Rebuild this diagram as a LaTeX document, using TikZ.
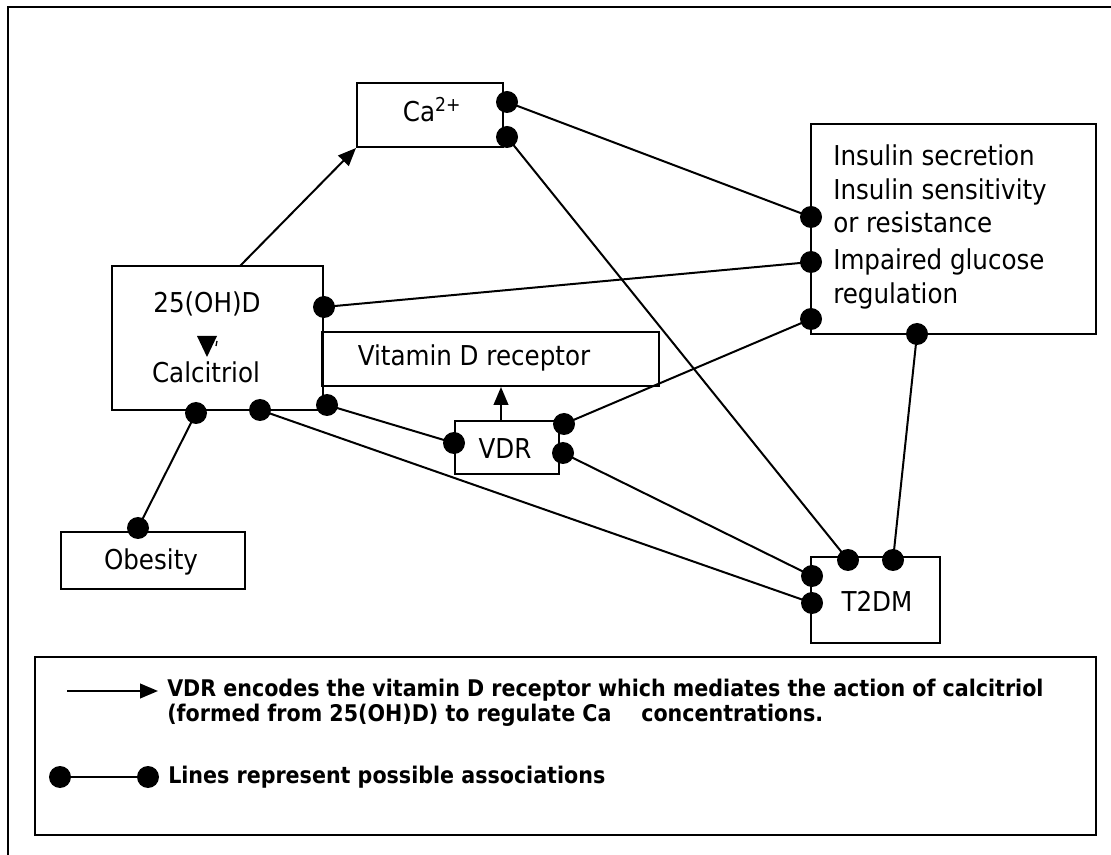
\documentclass[tikz,border=0pt]{standalone}
\usepackage{fontspec}
\setmainfont{DejaVu Sans Condensed}
\usetikzlibrary{arrows.meta}
\begin{document}
\begin{tikzpicture}[x=0.75pt,y=-0.75pt,
  box/.style={draw,line width=1.5pt,inner sep=0pt,font=\fontsize{20.5}{24}\selectfont},
  lbl/.style={inner sep=0pt,anchor=base,font=\fontsize{20.5}{24}\selectfont},
  leg/.style={inner sep=0pt,anchor=base west,font=\fontsize{17.2}{20}\selectfont\bfseries},
  dot/.style={circle,fill=black,inner sep=0pt,minimum size=16.5pt},
  assoc/.style={line width=1.5pt},
  arr/.style={line width=1.5pt,-{Triangle[length=13.5pt,width=11pt]}}]
\useasboundingbox (0,0) rectangle (1111,855);
% outer frame
\draw[line width=1.5pt] (8,860) -- (8,7) -- (1115,7);
% boxes
\node[box,minimum width=146*0.75pt,minimum height=64*0.75pt] (ca) at (430,115) {};
\node[lbl] (catxt) at (432,122) {Ca\textsuperscript{2+}};
\node[box,minimum width=211*0.75pt,minimum height=144*0.75pt] (ohd) at (217.5,338) {};
\node[lbl] (ohdtxt) at (207,313) {25(OH)D};
\node[lbl] (caltxt) at (206,383) {Calcitriol};
\node[box,minimum width=337*0.75pt,minimum height=54*0.75pt] (vdrec) at (490.5,359) {};
\node[lbl] (vdrectxt) at (474,366) {Vitamin D receptor};
\node[box,minimum width=104*0.75pt,minimum height=53*0.75pt] (vdr) at (507,447.5) {};
\node[lbl] (vdrtxt) at (505,459) {VDR};
\node[box,minimum width=285*0.75pt,minimum height=210*0.75pt] (ins) at (953.5,229) {};
\node[lbl,anchor=base west] (ins1) at (833,166) {Insulin secretion};
\node[lbl,anchor=base west] (ins2) at (833,200) {Insulin sensitivity};
\node[lbl,anchor=base west] (ins3) at (833,233) {or resistance};
\node[lbl,anchor=base west] (ins4) at (833,270) {Impaired glucose};
\node[lbl,anchor=base west] (ins5) at (833,304) {regulation};
\node[box,minimum width=129*0.75pt,minimum height=86*0.75pt] (t2dm) at (875.5,600) {};
\node[lbl] (t2dmtxt) at (877,611) {T2DM};
\node[box,minimum width=184*0.75pt,minimum height=57*0.75pt] (obes) at (153,560.5) {};
\node[lbl] (obestxt) at (151,570) {Obesity};
% small triangle inside 25(OH)D box
\fill (197,336) -- (217,336) -- (207,357) -- cycle;
\draw[line width=1pt] (217,341) -- (216,346);
% connection points
\coordinate (caA) at (507,102);
\coordinate (caB) at (507,137);
\coordinate (insA) at (811,217);
\coordinate (insB) at (811,262);
\coordinate (insC) at (811,319);
\coordinate (insD) at (917,334);
\coordinate (ohdA) at (324,307);
\coordinate (ohdB) at (327,405);
\coordinate (ohdC) at (260,410);
\coordinate (ohdD) at (196,413);
\coordinate (vdrA) at (454,443);
\coordinate (vdrB) at (564,424);
\coordinate (vdrC) at (563,453);
\coordinate (tA) at (848,560);
\coordinate (tB) at (893,560);
\coordinate (tC) at (812,576);
\coordinate (tD) at (812,603);
\coordinate (obA) at (138,528);
% arrows
\draw[arr] (240,266) -- (ca.south west);
\draw[arr] (vdr.north -| 501,0) -- (vdrec.south -| 501,0);
% associations
\draw[assoc] (caA) -- (insA);
\draw[assoc] (caB) -- (tA);
\draw[assoc] (ohdA) -- (insB);
\draw[assoc] (insC) -- (vdrB);
\draw[assoc] (insD) -- (tB);
\draw[assoc] (ohdB) -- (vdrA);
\draw[assoc] (vdrC) -- (tC);
\draw[assoc] (ohdC) -- (tD);
\draw[assoc] (ohdD) -- (obA);
\foreach \c in {caA,caB,insA,insB,insC,insD,ohdA,ohdB,ohdC,ohdD,vdrA,vdrB,vdrC,tA,tB,tC,tD,obA}
  \node[dot] at (\c) {};
% legend
\node[draw,line width=1.5pt,inner sep=0pt,minimum width=1061*0.75pt,minimum height=178*0.75pt] (legend) at (565.5,746) {};
\coordinate (la1) at (67,691);
\coordinate (la2) at (158,691);
\draw[arr] (la1) -- (la2);
\node[leg] (l1) at (167,696) {VDR encodes the vitamin D receptor which mediates the action of calcitriol};
\node[leg] (l2) at (167,721) {(formed from 25(OH)D) to regulate Ca\hspace{1.3em}concentrations.};
\coordinate (ld1) at (60,777);
\coordinate (ld2) at (148,777);
\draw[assoc] (ld1) -- (ld2);
\node[dot] at (ld1) {};
\node[dot] at (ld2) {};
\node[leg] (l3) at (168,783) {Lines represent possible associations};
\end{tikzpicture}
\end{document}
